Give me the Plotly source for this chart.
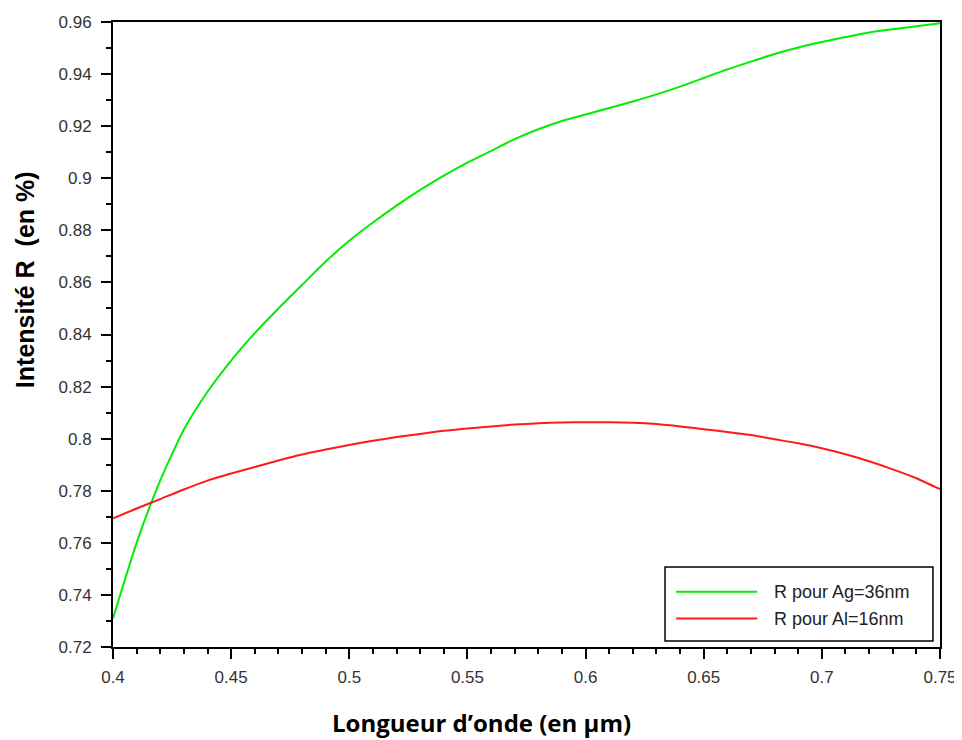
import plotly.graph_objects as go

# wavelength (µm)
wavelength = [0.40, 0.41, 0.42, 0.43, 0.44, 0.45, 0.46, 0.47, 0.48, 0.49,
              0.50, 0.51, 0.52, 0.53, 0.54, 0.55, 0.56, 0.57, 0.58, 0.59,
              0.60, 0.61, 0.62, 0.63, 0.64, 0.65, 0.66, 0.67, 0.68, 0.69,
              0.70, 0.71, 0.72, 0.73, 0.74, 0.75]

# R for Ag = 36 nm
r_ag = [0.731, 0.760, 0.784, 0.8035, 0.818, 0.830, 0.8405, 0.850, 0.859, 0.868,
        0.876, 0.883, 0.8895, 0.8955, 0.901, 0.906, 0.9105, 0.915, 0.9188, 0.922,
        0.9245, 0.927, 0.9295, 0.9322, 0.9352, 0.9385, 0.9418, 0.9448, 0.9477, 0.9502,
        0.9523, 0.9542, 0.956, 0.9572, 0.9584, 0.9595]

# R for Al = 16 nm
r_al = [0.7694, 0.7732, 0.7768, 0.7805, 0.7839, 0.7866, 0.7891, 0.7916, 0.7939, 0.7958,
        0.7976, 0.7992, 0.8006, 0.8018, 0.8030, 0.8039, 0.8047, 0.8054, 0.8059, 0.8062,
        0.8063, 0.8063, 0.8061, 0.8056, 0.8047, 0.8036, 0.8026, 0.8014, 0.7998, 0.7982,
        0.7963, 0.7940, 0.7913, 0.7882, 0.7848, 0.7806]

series_names = ["R pour Ag=36nm", "R pour Al=16nm"]
series_colors = ["#00ee00", "#ff1a1a"]

x_ticks = [0.4, 0.45, 0.5, 0.55, 0.6, 0.65, 0.7, 0.75]
x_ticklabels = ["0.4", "0.45", "0.5", "0.55", "0.6", "0.65", "0.7", "0.75"]
y_ticks = [0.72, 0.74, 0.76, 0.78, 0.80, 0.82, 0.84, 0.86, 0.88, 0.90, 0.92, 0.94, 0.96]
y_ticklabels = ["0.72", "0.74", "0.76", "0.78", "0.8", "0.82", "0.84", "0.86",
                "0.88", "0.9", "0.92", "0.94", "0.96"]

fig = go.Figure()
for name, vals, col in zip(series_names, [r_ag, r_al], series_colors):
    fig.add_trace(go.Scatter(x=wavelength, y=vals, mode="lines", name=name,
                             line=dict(color=col, width=2, shape="spline", smoothing=0.6),
                             showlegend=False))

tickfont = dict(family="Liberation Sans, Arial, sans-serif", size=17, color="#333333")

fig.update_xaxes(range=[0.4, 0.75], tickvals=x_ticks, ticktext=x_ticklabels,
                 ticks="outside", ticklen=10, tickwidth=1.5, tickcolor="black",
                 showline=True, linecolor="black", linewidth=2, mirror=True,
                 showgrid=False, zeroline=False, tickfont=tickfont,
                 ticklabelstandoff=4, automargin=False, ticklabeloverflow="allow",
                 minor=dict(dtick=0.01, tick0=0.4, ticks="outside", ticklen=5,
                            tickwidth=1.5, tickcolor="black", showgrid=False))
fig.update_yaxes(range=[0.72, 0.96], tickvals=y_ticks, ticktext=y_ticklabels,
                 ticks="outside", ticklen=10, tickwidth=1.5, tickcolor="black",
                 showline=True, linecolor="black", linewidth=2, mirror=True,
                 showgrid=False, zeroline=False, tickfont=tickfont,
                 ticklabelstandoff=6, automargin=False,
                 minor=dict(dtick=0.01, tick0=0.72, ticks="outside", ticklen=5,
                            tickwidth=1.5, tickcolor="black", showgrid=False))

annotations = [
    dict(text="Intensité R  (en %)", textangle=-90, xref="paper", yref="paper",
         x=-0.1064, y=0.587, xanchor="center", yanchor="middle", showarrow=False,
         font=dict(family="Liberation Sans, Arial, sans-serif", size=25, color="black",
                   weight="bold")),
    dict(text="Longueur d’onde (en µm)", xref="paper", yref="paper",
         x=0.446, y=-0.12, xanchor="center", yanchor="middle", showarrow=False,
         font=dict(family="Open Sans, sans-serif", size=24, color="black", weight="bold")),
]

# custom legend box (paper coordinates)
shapes = [dict(type="rect", xref="paper", yref="paper", x0=0.6675, x1=0.9915,
               y0=0.0096, y1=0.128, line=dict(color="black", width=1.5),
               fillcolor="white", layer="above")]
legend_rows_y = [0.0885, 0.0456]
for name, col, yy in zip(series_names, series_colors, legend_rows_y):
    shapes.append(dict(type="line", xref="paper", yref="paper", x0=0.681, x1=0.779,
                       y0=yy, y1=yy, line=dict(color=col, width=2), layer="above"))
    annotations.append(dict(text=name, xref="paper", yref="paper", x=0.797, y=yy,
                            xanchor="left", yanchor="middle", showarrow=False,
                            font=dict(family="Liberation Sans, Arial, sans-serif",
                                      size=18, color="#222222")))

# page body has an 8px default margin: figure is 954x732, offset by (8, 8)
fig.update_layout(width=954, height=732, margin=dict(l=105, r=22, t=14, b=93),
                  paper_bgcolor="white", plot_bgcolor="white",
                  annotations=annotations, shapes=shapes, showlegend=False)

fig.write_html("out.html")
